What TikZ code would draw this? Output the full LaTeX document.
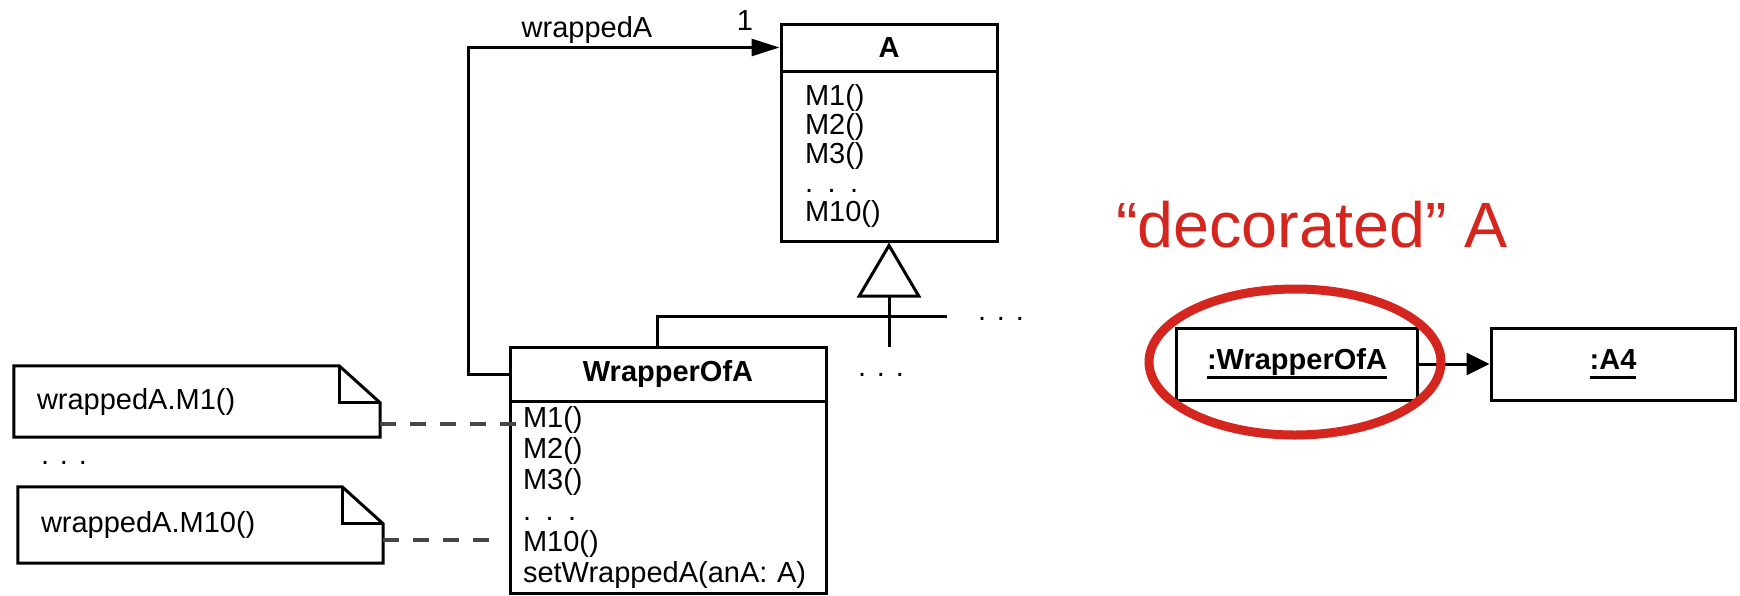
\documentclass[tikz,border=0pt]{standalone}
\usepackage{fontspec}
\setmainfont{Liberation Sans}
\newfontfamily\widefont[FakeStretch=1.01]{Liberation Sans}
\usetikzlibrary{arrows.meta,positioning}
\definecolor{decored}{RGB}{212,38,30}
\definecolor{notegray}{RGB}{70,70,70}
\newcommand{\objlabel}[1]{\setbox0=\hbox{#1}\rlap{\copy0}\rule[-9.5pt]{\wd0}{3pt}}

\begin{document}
\begin{tikzpicture}[x=1pt, y=-1pt,
    every node/.style={font=\fontsize{29}{30}\selectfont},
    umlline/.style={black, line width=3pt},
    classhead/.style={draw, umlline, font=\fontsize{29}{30}\selectfont\bfseries, inner sep=0pt},
    classbody/.style={draw, umlline, align=left, inner ysep=2pt},
    note/.style={align=left, inner ysep=0pt},
    assoc/.style={umlline, -{Triangle[length=28pt,width=17pt]}},
    inherit/.style={umlline, -{Triangle[open,length=55pt,width=64pt]}},
    link/.style={umlline, -{Triangle[length=23pt,width=22pt]}},
    anchorline/.style={notegray, line width=3.5pt, dash pattern=on 16pt off 14pt},
    objbox/.style={draw, umlline, font=\fontsize{29}{30}\selectfont\bfseries, minimum height=72pt},
    highlight/.style={decored, line width=9pt}]
    \useasboundingbox (0,0) rectangle (1740,595);

    % Class A
    \node[classhead, minimum width=216pt, minimum height=47pt] (Ahead) at (889,47.5) {A};
    \node[classbody, below=-3pt of Ahead, minimum width=216pt, minimum height=170pt, text width=168pt, inner xsep=24pt, font=\fontsize{29}{29}\selectfont] (Abody) {M1()\\M2()\\M3()\\. . .\\M10()};

    % WrapperOfA
    \node[classhead, minimum width=316pt, minimum height=54pt] (wraphead) at (668,374) {WrapperOfA};
    \node[classbody, below=-3pt of wraphead, minimum width=316pt, minimum height=192pt, text width=290pt, inner xsep=13pt, font=\fontsize{29}{31}\selectfont] (wrapbody) {M1()\\M2()\\M3()\\. . .\\M10()\\setWrappedA(anA: A)};

    % generalization
    \coordinate (busleft) at (657,316);
    \coordinate (busright) at (947,316);
    \coordinate (substub) at (887,347);
    \draw[umlline] (wraphead.north -| busleft) -- (busleft) -- (busright);
    \draw[inherit] (Abody.south |- substub) -- (Abody.south);
    \node (moresubs) at (881,375) {. . .};
    \node (morebus) at (1001,319) {. . .};

    % association wrappedA
    \coordinate (assocbend) at (468,47.5);
    \draw[assoc] (wraphead.west) -| (assocbend) |- (Ahead.west);
    \node (rolename) at (587,30) {wrappedA};
    \node (multiplicity) at (745,21) {1};

    % notes
    \node[note, minimum width=366pt, minimum height=71pt, text width=320pt, inner xsep=23pt] (note1) at (197,401.5) {wrappedA.M1()};
    \node[note, minimum width=365pt, minimum height=76pt, text width=319pt, inner xsep=22pt] (note10) at (200.5,525) {wrappedA.M10()};
    \foreach \n in {note1,note10} {
        \draw[umlline, line join=miter] (\n.north west) -- ([xshift=-41pt]\n.north east) -- ([yshift=-37pt]\n.north east) -- (\n.south east) -- (\n.south west) -- cycle;
        \draw[umlline] ([xshift=-41pt]\n.north east) |- ([yshift=-37pt]\n.north east);
    }
    \node (morenotes) at (64,463) {. . .};

    % note anchors
    \coordinate (m1end) at (520,424);
    \coordinate (m10end) at (490,540);
    \draw[anchorline] (note1.east |- m1end) -- (m1end);
    \draw[anchorline] (note10.east |- m10end) -- (m10end);

    % decorated A
    \node[text=decored, font=\widefont\fontsize{64}{64}\selectfont, anchor=base west, inner sep=0pt] (decolabel) at (1116,247) {“decorated” A};
    \node[objbox, minimum width=241pt] (wrapobj) at (1297,364) {\objlabel{:WrapperOfA}};
    \node[objbox, minimum width=244pt] (aobj) at (1613,364) {\objlabel{:A4}};
    \draw[link] (wrapobj) -- (aobj);
    \draw[highlight] (1295,362) ellipse [x radius=146pt, y radius=73pt];
\end{tikzpicture}
\end{document}
